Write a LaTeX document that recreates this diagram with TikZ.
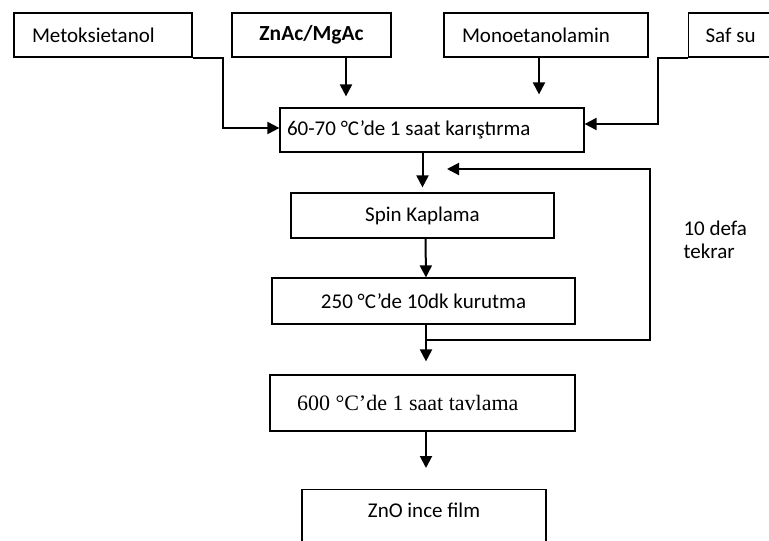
\documentclass[tikz,border=0pt]{standalone}
\usepackage{fontspec}
\setmainfont{Carlito}
\newfontfamily\timesfont{Liberation Serif}
\usetikzlibrary{positioning,calc,arrows.meta}

\tikzset{
    box/.style={draw, line width=1.2pt, minimum height=44pt, inner ysep=0pt, font=\fontsize{21}{24}\selectfont},
    arr/.style={line width=2pt, -{Triangle[length=12pt,width=12pt]}},
    link/.style={line width=2pt}
}

\begin{document}
\begin{tikzpicture}[x=1pt, y=-1pt]
    \useasboundingbox (0,0) rectangle (769,541);

    % Starting materials
    \node[box, inner xsep=18pt] (meto) at (103,35) {\makebox[142pt][l]{Metoksietanol}};
    \node[box, minimum width=159pt, font=\fontsize{21.5}{24}\selectfont\bfseries] (znac) at (311.5,35) {ZnAc/MgAc};
    \node[box, inner xsep=18pt] (mono) at (546,35) {\makebox[168pt][l]{Monoetanolamin}};
    \node[box, anchor=west, inner xsep=17pt] (safsu) at (688,35) {\makebox[100pt][l]{Saf su}};

    % Mixing
    \node[box, inner xsep=7pt] (mix) at (432,130) {\makebox[290pt][l]{60-70 °C’de 1 saat karıştırma}};
    \draw[arr, shorten >=11pt] ([xshift=34.5pt]znac.south) -- ([xshift=34.5pt]znac.south |- mix.north);
    \draw[arr, shorten >=13pt] ([xshift=-7pt]mono.south) -- ([xshift=-7pt]mono.south |- mix.north);
    \draw[arr] (meto.south east) -- ++(30,0) |- ([yshift=2pt]mix.west);
    \draw[arr] (safsu.south west) -- ++(-30,0) |- ([yshift=6pt]mix.east);

    % Coating loop
    \node[box, minimum width=263pt, minimum height=45pt] (spin) at (422.5,215.5) {Spin Kaplama};
    \node[box, minimum width=303pt, minimum height=46pt] (dry) at (423.5,301) {250 °C’de 10dk kurutma};
    \draw[arr, shorten >=5pt] (mix.south -| spin.north) -- (spin.north);
    \draw[arr] ([xshift=3pt]spin.south) -- ([xshift=2.5pt]dry.north);
    \coordinate (split) at (426,340);
    \coordinate (back) at (447,169);
    \draw[arr] (split) -- ++(224,0) |- (back);
    \node[anchor=north west, align=left, font=\fontsize{21}{23}\selectfont] (rep) at (680,217) {10 defa\\tekrar};

    % Annealing and film
    \node[box, inner xsep=27pt, minimum height=56pt, font=\fontsize{22}{24}\timesfont] (anneal) at (422.5,403) {\makebox[251pt][l]{600 °C’de 1 saat tavlama}};
    \node[box, anchor=north, minimum width=244pt, inner ysep=13pt, text depth=50pt] (film) at (424,489) {ZnO ince film};
    \draw[link] ([xshift=2.5pt]dry.south) -- (split);
    \draw[arr, shorten >=13pt] (split) -- (split |- anneal.north);
    \draw[arr, shorten >=21pt] (split |- anneal.south) -- (split |- film.north);
\end{tikzpicture}
\end{document}
